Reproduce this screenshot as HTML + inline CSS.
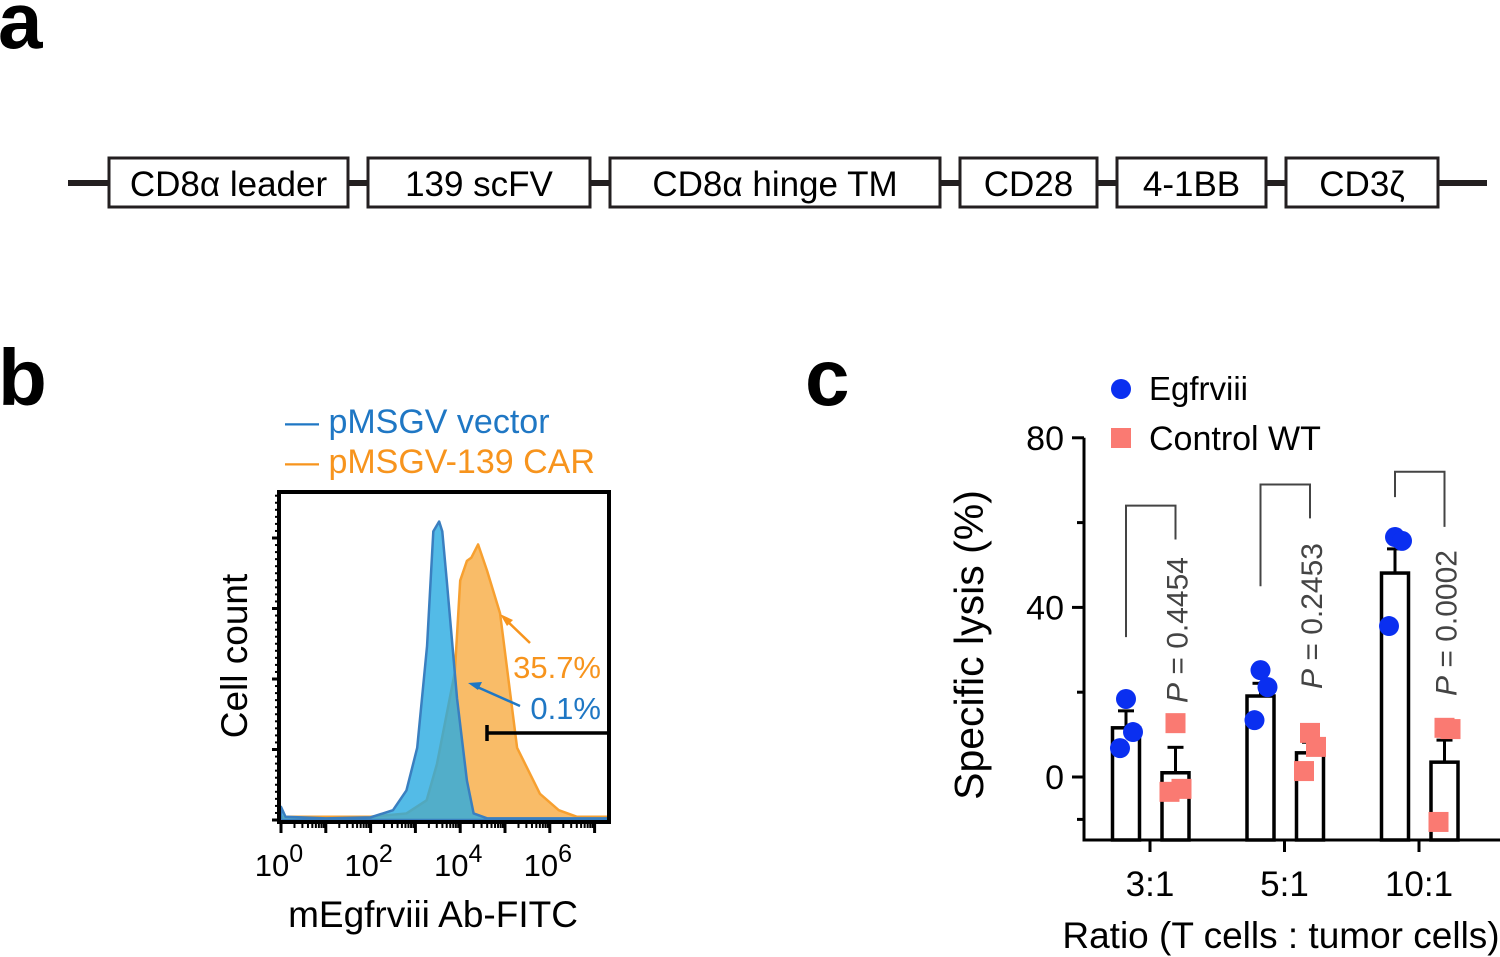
<!DOCTYPE html>
<html><head><meta charset="utf-8"><style>
html,body{margin:0;padding:0;background:#fff;}
svg{display:block;font-family:"Liberation Sans",Arial,sans-serif;}
</style></head><body>
<svg id="fig" width="1500" height="957" viewBox="0 0 1500 957">
<g>
<text x="-2" y="48" font-size="80" font-weight="bold">a</text>
<line x1="68" y1="183" x2="1487" y2="183" stroke="#231f20" stroke-width="6"/>
<g id="boxes"></g>
</g>
<g>
<text x="-2" y="405" font-size="80" font-weight="bold">b</text>
<g>
<text x="285" y="433" font-size="34" fill="#1f77c4">— pMSGV vector</text>
<text x="285" y="473" font-size="34" fill="#f7941d">— pMSGV-139 CAR</text>
</g>
<g id="hist"></g>
</g>
<g>
<text x="805" y="405" font-size="80" font-weight="bold">c</text>
<g id="barc"></g>
</g>
</svg>
<script>
const NS="http://www.w3.org/2000/svg";
function mk(parent,tag,attrs,text){const e=document.createElementNS(NS,tag);for(const k in attrs)e.setAttribute(k,attrs[k]);if(text!==undefined)e.textContent=text;parent.appendChild(e);return e;}

/* Panel a */
const boxLabels=["CD8α leader","139 scFV","CD8α hinge TM","CD28","4-1BB","CD3ζ"];
const boxX=[[109,348],[368,590],[610,940],[960,1097],[1117,1266],[1286,1438]];
const bg=document.getElementById('boxes');
boxLabels.forEach((l,i)=>{
  const r=mk(bg,'rect',{x:boxX[i][0],y:158,width:boxX[i][1]-boxX[i][0],height:49,fill:'#fff',stroke:'#231f20','stroke-width':3});
  
  
  const t=mk(bg,'text',{x:(boxX[i][0]+boxX[i][1])/2,y:196,'font-size':35,'text-anchor':'middle'},l);
  
  
});

/* Panel b: histogram */
const blueLog=[0,0.1,1,2,2.5,2.8,3.04,3.26,3.4,3.53,3.6,3.7,3.93,4.15,4.3,4.6,7.3];
const blueVal=[4,1,0.5,0.8,3,9,22,53,88,91,88,73,37,12,2,0.5,0.5];
const orLog=[0,0.1,1,2,2.8,3.25,3.48,3.88,4.0,4.15,4.25,4.4,4.6,4.89,5.27,5.78,6.2,6.6,7.3];
const orVal=[1,1,1,1,2,6,17,45,73,79,80,84,76,63,22,8,3,1,1];
const xTickLabels=["0","2","4","6"];
const hg=document.getElementById('hist');
const hx=v=>281+v*44.8, hy=v=>820-v*3.28;
function area(L,V,fill,stroke,name){
  let d=`M${hx(L[0])},${hy(0)}`;L.forEach((l,i)=>d+=` L${hx(l)},${hy(V[i])}`);d+=` L${hx(L[L.length-1])},${hy(0)}Z`;
  const p=mk(hg,'path',{d,fill,stroke,'stroke-width':2.5,'stroke-linejoin':'round'});
  
  
}
area(orLog,orVal,'rgba(247,160,40,0.7)','#f7a030','histogram-car');
area(blueLog,blueVal,'rgba(40,170,225,0.8)','#3a7fc0','histogram-vector');
const fr=mk(hg,'rect',{x:279,y:492,width:330,height:330,fill:'none',stroke:'#000','stroke-width':4});


for(let d=0;d<=7;d++){
  mk(hg,'line',{x1:hx(d),y1:822,x2:hx(d),y2:833,stroke:'#000','stroke-width':3});
  for(let m=2;m<10&&d<7;m++){const x=hx(d+Math.log10(m));mk(hg,'line',{x1:x,y1:822,x2:x,y2:828,stroke:'#000','stroke-width':2});}
}
for(let k=0;k<5;k++){const y=820-k*70.5;mk(hg,'line',{x1:272,y1:y,x2:279,y2:y,stroke:'#000','stroke-width':3});
 for(let j=1;j<10;j++){const yy=y-j*7.05;if(yy>494)mk(hg,'line',{x1:275,y1:yy,x2:279,y2:yy,stroke:'#000','stroke-width':2});}}
xTickLabels.forEach((t,i)=>{
  const tx=mk(hg,'text',{x:hx(i*2)-2,y:876,'font-size':31,'text-anchor':'middle'});
  
  
  tx.innerHTML=`10<tspan dy="-14" font-size="25">${t}</tspan>`;
});
const xt=mk(hg,'text',{x:433,y:927,'font-size':37,'text-anchor':'middle'},'mEgfrviii Ab-FITC');


const yt=mk(hg,'text',{x:0,y:0,'font-size':37,'text-anchor':'middle',transform:'translate(247,656) rotate(-90)'},'Cell count');


mk(hg,'line',{x1:487,y1:733,x2:609,y2:733,stroke:'#000','stroke-width':3.5});
mk(hg,'line',{x1:487,y1:725,x2:487,y2:741,stroke:'#000','stroke-width':3.5});
mk(hg,'line',{x1:530,y1:643,x2:504,y2:618,stroke:'#f7941d','stroke-width':2.5});
mk(hg,'path',{d:'M500,614 L513,620 L507,626Z',fill:'#f7941d'});
mk(hg,'line',{x1:520,y1:706,x2:475,y2:686,stroke:'#1f77c4','stroke-width':2.5});
mk(hg,'path',{d:'M468,683 L482,682 L478,690Z',fill:'#1f77c4'});
const g1=mk(hg,'text',{x:601,y:678,'font-size':31,'text-anchor':'end',fill:'#f7941d'},'35.7%');


const g2=mk(hg,'text',{x:601,y:719,'font-size':31,'text-anchor':'end',fill:'#1f77c4'},'0.1%');



/* Panel c: bar chart */
const categories=["3:1","5:1","10:1"];
const egfrMean=[11.6,19.1,48.1];
const egfrErr=[4,3,5.7];
const ctrlMean=[1,5.7,3.5];
const ctrlErr=[6,2.5,5.2];
const egfrPts=[[18.4,10.6,6.8],[25.2,21.2,13.4],[56.6,55.7,35.6]];
const ctrlPts=[[12.7,-2.8,-3.5],[10.4,7.1,1.4],[11.6,11.3,-10.6]];
const pVals=["0.4454","0.2453","0.0002"];
const bracketTop=[64,69,72];
const bracketLeftEnd=[33,45,66];
const bracketRightEnd=[56,61,59];
const yTicks=[0,40,80];
const cg=document.getElementById('barc');
const cy=v=>777-v*4.24;
const cx=i=>1150+i*134.5;
const ax=mk(cg,'path',{d:`M1084,${cy(80)} L1084,840 L1500,840`,fill:'none',stroke:'#000','stroke-width':3});


yTicks.forEach(v=>{
  mk(cg,'line',{x1:1072,y1:cy(v),x2:1084,y2:cy(v),stroke:'#000','stroke-width':3});
  const t=mk(cg,'text',{x:1064,y:cy(v)+12,'font-size':34,'text-anchor':'end'},String(v));
  
  
});
[20,60,-10].forEach(v=>mk(cg,'line',{x1:1077,y1:cy(v),x2:1084,y2:cy(v),stroke:'#000','stroke-width':3}));
const bw=27;
categories.forEach((c,i)=>{
  const x=cx(i);
  mk(cg,'line',{x1:x,y1:840,x2:x,y2:852,stroke:'#000','stroke-width':3});
  const t=mk(cg,'text',{x:x,y:896,'font-size':35,'text-anchor':'middle'},c);
  
  
  const ex=x-37.5, cxx=x+12;
  [[ex,egfrMean[i],egfrErr[i],'bar-egfrviii'],[cxx,ctrlMean[i],ctrlErr[i],'bar-control']].forEach(([bx,m,e,n])=>{
    const top=Math.max(m,0);
    mk(cg,'line',{x1:bx+bw/2,y1:cy(m),x2:bx+bw/2,y2:cy(m+e),stroke:'#000','stroke-width':3});
    mk(cg,'line',{x1:bx+bw/2-8,y1:cy(m+e),x2:bx+bw/2+8,y2:cy(m+e),stroke:'#000','stroke-width':3});
    const r=mk(cg,'rect',{x:bx,y:cy(top),width:bw,height:840-cy(top),fill:'none',stroke:'#000','stroke-width':3.5});
    
    
  });
  egfrPts[i].forEach((v,j)=>{
    const p=mk(cg,'circle',{cx:ex+bw/2+[0,7,-6][j],cy:cy(v),r:10,fill:'#0a2ff0'});
    
    
  });
  ctrlPts[i].forEach((v,j)=>{
    const p=mk(cg,'rect',{x:cxx+bw/2+[0,6,-6][j]-10,y:cy(v)-10,width:20,height:20,fill:'#fa7a72'});
    
    
  });
  const bl=ex+bw/2, br=cxx+bw/2;
  const brk=mk(cg,'path',{d:`M${bl},${cy(bracketLeftEnd[i])} L${bl},${cy(bracketTop[i])} L${br},${cy(bracketTop[i])} L${br},${cy(bracketRightEnd[i])}`,fill:'none',stroke:'#444','stroke-width':2});
  
  
  const pt=mk(cg,'text',{x:0,y:0,'font-size':30,fill:'#444','text-anchor':'start',transform:`translate(${br+12},${[703,689,696][i]}) rotate(-90)`});
  
  
  pt.innerHTML=`<tspan font-style="italic">P</tspan> = ${pVals[i]}`;
});
const cyt=mk(cg,'text',{x:0,y:0,'font-size':41,'text-anchor':'middle',transform:'translate(983,645) rotate(-90)'},'Specific lysis (%)');


const cxt=mk(cg,'text',{x:1281,y:948,'font-size':37,'text-anchor':'middle'},'Ratio (T cells : tumor cells)');


const l1=mk(cg,'circle',{cx:1121,cy:389,r:10,fill:'#0a2ff0'});


const l1t=mk(cg,'text',{x:1149,y:400,'font-size':33},'Egfrviii');


const l2=mk(cg,'rect',{x:1111,y:428,width:20,height:20,fill:'#fa7a72'});


const l2t=mk(cg,'text',{x:1149,y:450,'font-size':34},'Control WT');


</script>
</body></html>
